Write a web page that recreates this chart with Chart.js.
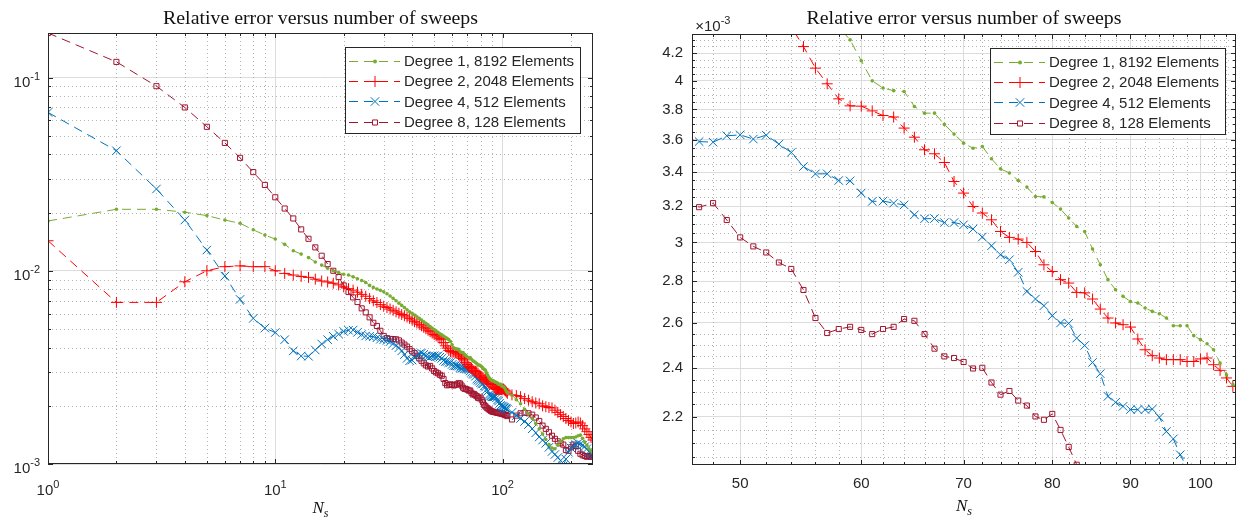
<!DOCTYPE html>
<html><head><meta charset="utf-8">
<script src="https://cdn.jsdelivr.net/npm/chart.js@4/dist/chart.umd.min.js"></script>
<style>
html,body{margin:0;padding:0;background:#fff;}
body{width:1243px;height:521px;position:relative;overflow:hidden;}
.box{position:absolute;top:0;height:521px;}
</style></head><body>
<div class="box" style="left:0;width:620px"><canvas id="c1"></canvas></div>
<div class="box" style="left:620px;width:623px"><canvas id="c2"></canvas></div>
<script>
// ---------- data (values in units of 1e-3) ----------
const SCALE = 1e-3;
const sweeps = [1,2,3,4,5,6,7,8,9,10,11,12,13,14,15,16,17,18,19,20,21,22,23,24,25,26,27,28,29,30,
31,32,33,34,35,36,37,38,39,40,41,42,43,44,45,46,47,48,49,50,51,52,53,54,55,56,57,58,59,60,
61,62,63,64,65,66,67,68,69,70,71,72,73,74,75,76,77,78,79,80,81,82,83,84,85,86,87,88,89,90,
91,92,93,94,95,96,97,98,99,100,101,102,103,104,105,
110,115,120,125,130,135,140,145,150,155,160,165,170,175,180,185,190,195,200,205,210,215,220,225,230,235,240,245,250];

const degree1 = [18.1,20.8,20.8,20.1,19.3,18.3,17.6,16.3,15.3,14.6,
13.7,12.7,12.2,11.7,11.1,10.7,10.3,10.0,9.8,9.6,
9.5,9.3,9.1,8.9,8.7,8.4,8.2,8.05,7.92,7.78,
7.60,7.40,7.20,7.00,6.80,6.62,6.45,6.28,6.14,6.02,
5.90,5.78,5.67,5.56,5.45,5.35,5.25,5.15,5.05,4.96,
4.88,4.80,4.72,4.66,4.60,4.53,4.47,4.40,4.300,4.143,
3.998,3.947,3.929,3.923,3.820,3.775,3.775,3.700,3.637,3.579,
3.547,3.557,3.481,3.419,3.394,3.349,3.310,3.255,3.253,3.221,
3.183,3.133,3.086,3.059,2.965,2.883,2.808,2.758,2.726,2.701,
2.694,2.670,2.654,2.643,2.623,2.587,2.587,2.587,2.542,2.524,
2.506,2.479,2.421,2.371,2.330,
2.27,2.15,2.05,1.92,1.82,1.72,1.62,1.52,1.43,1.34,1.26,1.21,1.20,1.25,1.31,1.35,1.37,1.37,1.37,1.37,1.38,1.40,1.41,1.36,1.30,1.25,1.20,1.17,1.14];

const degree2 = [14.3,6.86,6.86,8.77,10.0,10.5,10.6,10.5,10.5,10.0,
9.69,9.50,9.35,9.24,9.05,8.85,8.75,8.62,8.45,8.25,
8.08,7.94,7.75,7.55,7.38,7.18,6.99,6.85,6.68,6.55,
6.45,6.34,6.24,6.13,6.03,5.94,5.85,5.76,5.67,5.56,
5.45,5.37,5.28,5.19,5.10,5.01,4.92,4.84,4.76,4.68,
4.61,4.54,4.47,4.40,4.249,4.089,3.977,3.872,3.824,3.822,
3.790,3.759,3.749,3.676,3.617,3.537,3.512,3.458,3.343,3.275,
3.198,3.161,3.123,3.059,3.027,3.018,3.000,2.952,2.883,2.849,
2.808,2.791,2.745,2.743,2.713,2.665,2.623,2.600,2.592,2.581,
2.527,2.479,2.453,2.443,2.436,2.436,2.436,2.428,2.428,2.439,
2.443,2.414,2.390,2.358,2.323,
2.28,2.26,2.23,2.18,2.14,2.10,2.07,2.05,2.00,1.98,1.96,1.95,1.90,1.85,1.80,1.76,1.72,1.68,1.65,1.62,1.63,1.65,1.63,1.58,1.52,1.47,1.42,1.37,1.33];

const degree4 = [66.0,41.8,26.5,18.3,12.8,9.39,7.11,5.67,5.05,4.79,
4.40,3.85,3.62,3.61,3.89,4.18,4.40,4.58,4.70,4.85,
4.92,4.93,4.80,4.68,4.60,4.58,4.56,4.50,4.42,4.40,
4.36,4.30,4.20,4.10,4.00,3.85,3.68,3.52,3.42,3.45,
3.55,3.65,3.72,3.75,3.70,3.62,3.589,3.585,3.626,3.632,
3.605,3.630,3.573,3.520,3.433,3.389,3.389,3.349,3.347,3.275,
3.227,3.229,3.217,3.207,3.151,3.129,3.130,3.108,3.108,3.096,
3.073,3.029,2.982,2.935,2.909,2.845,2.750,2.713,2.681,2.634,
2.600,2.598,2.531,2.498,2.424,2.376,2.282,2.258,2.242,2.229,
2.229,2.229,2.231,2.199,2.144,2.116,2.057,2.010,1.995,1.980,
1.970,1.960,1.945,1.935,1.920,
1.85,1.78,1.72,1.66,1.60,1.52,1.45,1.38,1.33,1.28,1.22,1.16,1.12,1.08,1.04,0.98,1.06,1.15,1.21,1.24,1.26,1.28,1.27,1.25,1.23,1.20,1.16,1.13,1.11];

const degree8 = [170,120.5,90.2,70.0,55.6,45.9,38.4,32.4,27.8,24.0,
21.0,18.65,16.37,14.64,13.21,11.96,10.83,10.0,9.28,8.40,
7.76,7.28,6.89,6.39,6.09,5.74,5.38,5.18,4.89,4.60,
4.48,4.44,4.43,4.42,4.36,4.25,4.15,4.05,3.93,3.83,
3.75,3.63,3.52,3.42,3.32,3.24,3.194,3.217,3.122,3.027,
2.979,2.947,2.895,2.862,2.757,2.623,2.554,2.572,2.582,2.568,
2.549,2.572,2.582,2.618,2.610,2.549,2.484,2.450,2.443,2.426,
2.398,2.401,2.339,2.289,2.304,2.265,2.245,2.202,2.189,2.212,
2.150,2.086,2.021,1.99,1.96,1.94,1.92,1.90,1.88,1.87,
1.86,1.86,1.85,1.85,1.84,1.84,1.83,1.83,1.82,1.82,
1.81,1.80,1.79,1.79,1.77,
1.70,1.78,1.83,1.84,1.83,1.80,1.74,1.67,1.58,1.52,1.46,1.40,1.35,1.31,1.28,1.26,1.18,1.17,1.22,1.26,1.24,1.17,1.13,1.11,1.10,1.09,1.10,1.09,1.09];

const seriesLabels = ['Degree 1, 8192 Elements','Degree 2, 2048 Elements','Degree 4, 512 Elements','Degree 8, 128 Elements'];
const seriesColors = ['#77AC30','#FF0000','#0072BD','#A2142F'];
const chartTitle = 'Relative error versus number of sweeps';

// ticks (left: log-log overview, right: zoom)
const leftXMajor = [1,10,100];
const leftXMinor = [2,3,4,5,6,7,8,9,20,30,40,50,60,70,80,90,200];
const leftYMajor = [1e-3,1e-2,1e-1];
const leftYMinor = [2e-3,3e-3,4e-3,5e-3,6e-3,7e-3,8e-3,9e-3,2e-2,3e-2,4e-2,5e-2,6e-2,7e-2,8e-2,9e-2];
const leftXLabels = ['0','1','2'];      // exponents of 10
const leftYLabels = ['-3','-2','-1'];
const rightXMajor = [50,60,70,80,90,100];
const rightXMinor = [48,52,54,56,58,62,64,66,68,72,74,76,78,82,84,86,88,92,94,96,98,102,104];
const rightYMajor = [2.2,2.4,2.6,2.8,3.0,3.2,3.4,3.6,3.8,4.0,4.2];
const rightYMinor = [2.05,2.1,2.15,2.25,2.3,2.35,2.45,2.5,2.55,2.65,2.7,2.75,2.85,2.9,2.95,3.05,3.1,3.15,3.25,3.3,3.35,3.45,3.5,3.55,3.65,3.7,3.75,3.85,3.9,3.95,4.05,4.1,4.15,4.25,4.3];

// ---------- styling ----------
const SANS = '"Liberation Sans", Arial, Helvetica, sans-serif';
const SERIF = '"Liberation Serif", "Times New Roman", serif';
const INK = '#262626';
const DASH = [9,6];
const markerOpts = [
  {pointStyle:'circle', pointRadius:1.8, pointBorderWidth:0, fill:true},
  {pointStyle:'cross', pointRadius:5.5, pointBorderWidth:1, fill:false},
  {pointStyle:'crossRot', pointRadius:6, pointBorderWidth:1, fill:false},
  {pointStyle:'rect', pointRadius:3.6, pointBorderWidth:1, fill:false}
];
const allSeries = [degree1, degree2, degree4, degree8];

function makeDatasets(){
  return allSeries.map((s,i)=>({
    label: seriesLabels[i],
    data: sweeps.map((n,k)=>({x:n, y:s[k]*SCALE})),
    borderColor: seriesColors[i],
    borderWidth: 1,
    borderDash: DASH,
    pointStyle: markerOpts[i].pointStyle,
    pointRadius: markerOpts[i].pointRadius,
    pointBorderWidth: markerOpts[i].pointBorderWidth,
    pointBorderColor: seriesColors[i],
    pointBackgroundColor: markerOpts[i].fill ? seriesColors[i] : 'rgba(0,0,0,0)',
    fill: false, tension: 0
  }));
}

function drawMarker(ctx, style, r, x, y, color){
  ctx.save(); ctx.setLineDash([]); ctx.strokeStyle=color; ctx.fillStyle=color; ctx.lineWidth=1;
  ctx.beginPath();
  if(style==='circle'){ ctx.arc(x,y,r,0,Math.PI*2); ctx.fill(); }
  else if(style==='cross'){ ctx.moveTo(x-r,y); ctx.lineTo(x+r,y); ctx.moveTo(x,y-r); ctx.lineTo(x,y+r); ctx.stroke(); }
  else if(style==='crossRot'){ const d=r*Math.SQRT1_2; ctx.moveTo(x-d,y-d); ctx.lineTo(x+d,y+d); ctx.moveTo(x-d,y+d); ctx.lineTo(x+d,y-d); ctx.stroke(); }
  else if(style==='rect'){ const s=r*Math.SQRT1_2; ctx.rect(x-s,y-s,2*s,2*s); ctx.stroke(); }
  ctx.restore();
}

function drawPow(ctx, exp, x, baseY, align){
  ctx.font = '15px '+SANS; const wb = ctx.measureText('10').width;
  ctx.font = '11px '+SANS; const we = ctx.measureText(exp).width;
  const tot = wb+we;
  const x0 = align==='right' ? x-tot : (align==='left' ? x : x-tot/2);
  ctx.textAlign='left'; ctx.textBaseline='alphabetic';
  ctx.font = '15px '+SANS; ctx.fillText('10', x0, baseY);
  ctx.font = '11px '+SANS; ctx.fillText(exp, x0+wb, baseY-7);
}

const mAxes = {
  id:'mAxes',
  beforeDatasetsDraw(chart, args, o){
    const {ctx, chartArea:a, scales:{x,y}} = chart;
    ctx.save();
    ctx.beginPath(); ctx.rect(a.left,a.top,a.right-a.left,a.bottom-a.top); ctx.clip();
    ctx.strokeStyle='#b4b4b4'; ctx.lineWidth=1; ctx.setLineDash([1,3]);
    o.xMinor.forEach(v=>{const p=Math.round(x.getPixelForValue(v))+0.5; ctx.beginPath(); ctx.moveTo(p,a.top); ctx.lineTo(p,a.bottom); ctx.stroke();});
    o.yMinor.forEach(v=>{const p=Math.round(y.getPixelForValue(v))+0.5; ctx.beginPath(); ctx.moveTo(a.left,p); ctx.lineTo(a.right,p); ctx.stroke();});
    ctx.restore();
  },
  afterDatasetsDraw(chart, args, o){
    const {ctx, chartArea:a, scales:{x,y}} = chart;
    ctx.save(); ctx.setLineDash([]); ctx.strokeStyle=INK; ctx.lineWidth=1;
    ctx.strokeRect(a.left+0.5, a.top+0.5, a.right-a.left-1, a.bottom-a.top-1);
    const tick=(vals,len,axis)=>{
      vals.forEach(v=>{
        if(axis==='x'){ const p=Math.round(x.getPixelForValue(v))+0.5;
          ctx.beginPath(); ctx.moveTo(p,a.bottom); ctx.lineTo(p,a.bottom-len); ctx.moveTo(p,a.top); ctx.lineTo(p,a.top+len); ctx.stroke(); }
        else { const p=Math.round(y.getPixelForValue(v))+0.5;
          ctx.beginPath(); ctx.moveTo(a.left,p); ctx.lineTo(a.left+len,p); ctx.moveTo(a.right,p); ctx.lineTo(a.right-len,p); ctx.stroke(); }
      });
    };
    tick(o.xMajor,5,'x'); tick(o.xMinor,3,'x'); tick(o.yMajor,5,'y'); tick(o.yMinor,3,'y');
    ctx.restore();
  },
  afterDraw(chart, args, o){
    const {ctx, chartArea:a, scales:{x,y}} = chart;
    ctx.save(); ctx.fillStyle=INK;
    // exponent tick labels for the overview panel
    if(o.powLabels){
      o.xMajor.forEach((v,i)=>drawPow(ctx, o.xPow[i], x.getPixelForValue(v), a.bottom+31, 'center'));
      o.yMajor.forEach((v,i)=>drawPow(ctx, o.yPow[i], a.left-8, y.getPixelForValue(v)+9, 'right'));
    }
    if(o.multiplier){ drawPow(ctx, '-3', a.left+12, 30.5, 'left');
      ctx.font='15px '+SANS; ctx.textAlign='right'; ctx.fillText('\u00d7', a.left+12, 30.5); }
    // title
    ctx.fillStyle='#111';
    ctx.font='18px '+SERIF; const w=ctx.measureText(chartTitle).width; const fs=18*315/w;
    ctx.font=fs.toFixed(2)+'px '+SERIF; ctx.textAlign='center'; ctx.textBaseline='alphabetic';
    const cx=(a.left+a.right)/2;
    ctx.fillText(chartTitle, cx, o.titleY);
    // x label N_s
    ctx.font='italic 17px '+SERIF; const wn=ctx.measureText('N').width;
    ctx.font='italic 12px '+SERIF; const ws=ctx.measureText('s').width;
    const lx=cx-(wn+ws)/2; ctx.textAlign='left';
    ctx.font='italic 17px '+SERIF; ctx.fillText('N', lx, o.xlabelY);
    ctx.font='italic 12px '+SERIF; ctx.fillText('s', lx+wn, o.xlabelY+3.5);
    // legend
    const L=o.legend;
    ctx.fillStyle='#fff'; ctx.fillRect(L.x, L.y, L.w, L.h);
    ctx.strokeStyle=INK; ctx.lineWidth=1; ctx.strokeRect(L.x+0.5, L.y+0.5, L.w, L.h);
    chart.data.datasets.forEach((ds,i)=>{
      const ry=L.y+14+i*20.2;
      ctx.save(); ctx.strokeStyle=ds.borderColor; ctx.lineWidth=1; ctx.setLineDash(DASH);
      ctx.beginPath(); ctx.moveTo(L.x+4, Math.round(ry)+0.5); ctx.lineTo(L.x+55, Math.round(ry)+0.5); ctx.stroke(); ctx.restore();
      drawMarker(ctx, ds.pointStyle, ds.pointRadius===1.8?2:ds.pointRadius, L.x+30, Math.round(ry)+0.5, ds.borderColor);
      ctx.fillStyle=INK; ctx.font='15px '+SANS; ctx.textAlign='left'; ctx.textBaseline='middle';
      ctx.fillText(ds.label, L.x+59, ry+1);
    });
    ctx.restore();
  }
};

function baseScale(cfg){
  return {
    type:'logarithmic', min:cfg.min, max:cfg.max, display:true,
    afterBuildTicks:(s)=>{ s.ticks = cfg.major.map(v=>({value:v})); },
    afterFit:(s)=>{ if(cfg.width!==undefined) s.width=cfg.width; if(cfg.height!==undefined) s.height=cfg.height; },
    grid:{ color:'#dcdcdc', lineWidth:1, drawTicks:false },
    border:{ display:false },
    ticks:{ display:cfg.showTicks, autoSkip:false, maxRotation:0, padding:cfg.pad||0,
      color:INK, font:{family:SANS, size:15},
      callback:cfg.cb || ((v)=>String(v)) }
  };
}

Chart.defaults.animation=false;

new Chart(document.getElementById('c1'), {
  type:'line',
  data:{ datasets: makeDatasets() },
  options:{
    responsive:true, maintainAspectRatio:false, animation:false, events:[],
    layout:{ padding:{ top:33, right:27, left:0, bottom:0 } },
    scales:{
      x: baseScale({min:1, max:250, major:leftXMajor, height:57, showTicks:false}),
      y: baseScale({min:1e-3, max:0.17, major:leftYMajor, width:48, showTicks:false})
    },
    plugins:{ legend:{display:false}, tooltip:{enabled:false},
      mAxes:{ xMajor:leftXMajor, xMinor:leftXMinor, yMajor:leftYMajor, yMinor:leftYMinor,
        powLabels:true, xPow:leftXLabels, yPow:leftYLabels, titleY:23.5, xlabelY:513,
        legend:{x:345, y:47, w:235, h:86} } }
  },
  plugins:[mAxes]
});

new Chart(document.getElementById('c2'), {
  type:'line',
  data:{ datasets: makeDatasets() },
  options:{
    responsive:true, maintainAspectRatio:false, animation:false, events:[],
    layout:{ padding:{ top:34, right:5, left:0, bottom:0 } },
    scales:{
      x: baseScale({min:46.5, max:105.5, major:rightXMajor, height:56, showTicks:true, pad:10, cb:(v)=>String(v)}),
      y: baseScale({min:2.02*SCALE, max:4.345*SCALE, major:rightYMajor.map(v=>v*SCALE), width:72, showTicks:true, pad:9,
        cb:(v)=>String(+(v/SCALE).toFixed(1))})
    },
    plugins:{ legend:{display:false}, tooltip:{enabled:false},
      mAxes:{ xMajor:rightXMajor, xMinor:rightXMinor, yMajor:rightYMajor.map(v=>v*SCALE), yMinor:rightYMinor.map(v=>v*SCALE),
        powLabels:false, multiplier:true, titleY:24, xlabelY:511,
        legend:{x:370, y:48, w:235, h:86} } }
  },
  plugins:[mAxes]
});
</script>
</body></html>
